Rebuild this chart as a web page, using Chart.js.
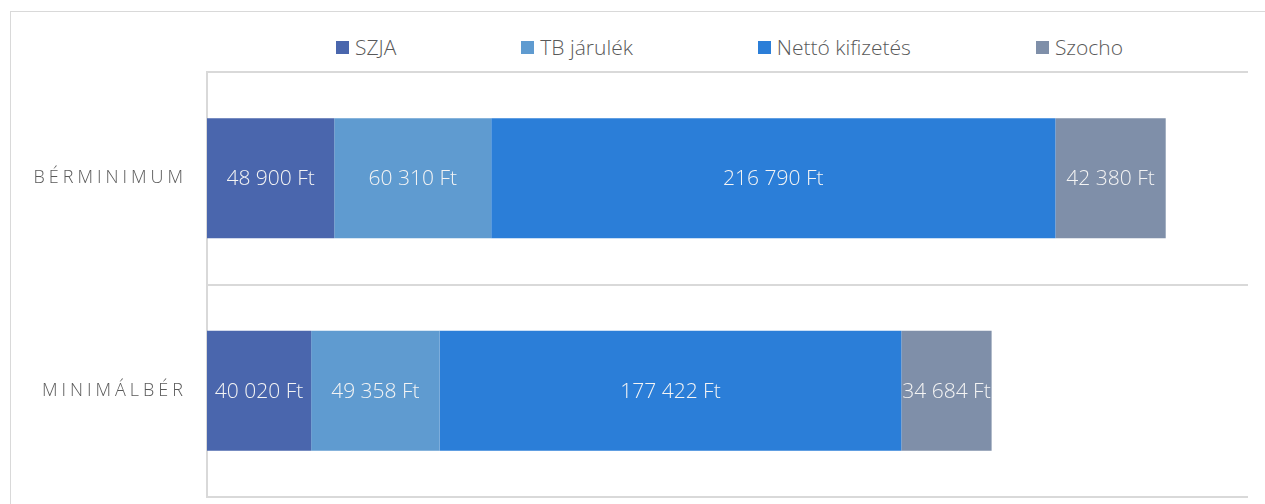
<!DOCTYPE html>
<html lang="hu">
<head>
<meta charset="utf-8">
<script src="https://cdn.jsdelivr.net/npm/chart.js@4"></script>
<style>
  html, body { margin: 0; padding: 0; background: #fff; overflow: hidden; }
  #wrap { position: relative; width: 1265px; height: 504px; }
  #frame {
    position: absolute; left: 10px; top: 11px; width: 1400px; height: 700px;
    border: 1px solid #d9d9d9; box-sizing: border-box;
  }
  #legend {
    position: absolute; left: 209px; width: 1041px; top: 33px;
    display: flex; justify-content: center; gap: 125px;
    font-family: "Open Sans", sans-serif; font-weight: 300; font-size: 21px; color: #595959;
  }
  #legend span { display: flex; align-items: center; white-space: nowrap; }
  #legend i { display: inline-block; width: 13px; height: 13px; margin-right: 6px; }
  canvas { position: absolute; left: 0; top: 0; }
</style>
</head>
<body>
<div id="wrap">
  <div id="frame"></div>
  <div id="legend"></div>
  <canvas id="chart" width="1265" height="504"></canvas>
</div>
<script>
// ---------- DATA ----------
const categories = ["BÉRMINIMUM", "MINIMÁLBÉR"];
const seriesNames = ["SZJA", "TB járulék", "Nettó kifizetés", "Szocho"];
const szja = [48900, 40020];
const tbJarulek = [60310, 49358];
const netto = [216790, 177422];
const szocho = [42380, 34684];
const colors = ["#4a66ad", "#5f9bd0", "#2b7ed8", "#7f8fa9"];

const seriesValues = [szja, tbJarulek, netto, szocho];

// ---------- LEGEND (html) ----------
const legend = document.getElementById("legend");
seriesNames.forEach((name, i) => {
  const item = document.createElement("span");
  item.innerHTML = `<i style="background:${colors[i]}"></i>${name}`;
  legend.appendChild(item);
});

function formatFt(v) {
  return String(v).replace(/\B(?=(\d{3})+(?!\d))/g, " ") + " Ft";
}

// value labels in the middle of each segment
const valueLabels = {
  id: "valueLabels",
  afterDatasetsDraw(chart) {
    const ctx = chart.ctx;
    ctx.save();
    ctx.font = '300 21px "Open Sans", sans-serif';
    ctx.fillStyle = "#f4f4f4";
    ctx.textAlign = "center";
    ctx.textBaseline = "middle";
    chart.data.datasets.forEach((ds, i) => {
      chart.getDatasetMeta(i).data.forEach((bar, j) => {
        const cx = (bar.x + bar.base) / 2;
        ctx.fillText(formatFt(ds.data[j]), cx, bar.y + 1);
      });
    });
    ctx.restore();
  }
};

// spaced category labels on the left
const categoryLabels = {
  id: "categoryLabels",
  afterDraw(chart) {
    const ctx = chart.ctx;
    const y = chart.scales.y;
    ctx.save();
    ctx.font = '300 18px "Open Sans", sans-serif';
    ctx.fillStyle = "#595959";
    ctx.letterSpacing = "4px";
    ctx.textAlign = "right";
    ctx.textBaseline = "middle";
    categories.forEach((c, i) => {
      ctx.fillText(c, y.left + y.width - 20, y.getPixelForValue(i));
    });
    ctx.restore();
  }
};

new Chart(document.getElementById("chart"), {
  type: "bar",
  data: {
    labels: categories,
    datasets: seriesValues.map((vals, i) => ({
      label: seriesNames[i],
      data: vals,
      backgroundColor: colors[i],
      borderWidth: 0,
      barPercentage: 0.565,
      categoryPercentage: 1
    }))
  },
  options: {
    indexAxis: "y",
    responsive: false,
    animation: false,
    layout: { padding: { left: 0, right: 17, top: 72, bottom: 7 } },
    plugins: {
      legend: { display: false },
      tooltip: { enabled: false }
    },
    scales: {
      x: {
        stacked: true,
        min: 0,
        max: 400000,
        display: false
      },
      y: {
        stacked: true,
        ticks: { display: false },
        grid: { offset: true, color: "#d9d9d9", lineWidth: 2, drawTicks: false },
        border: { display: true, color: "#d9d9d9", width: 2 },
        afterFit: (scale) => { scale.width = 207; }
      }
    }
  },
  plugins: [valueLabels, categoryLabels]
});
</script>
</body>
</html>
